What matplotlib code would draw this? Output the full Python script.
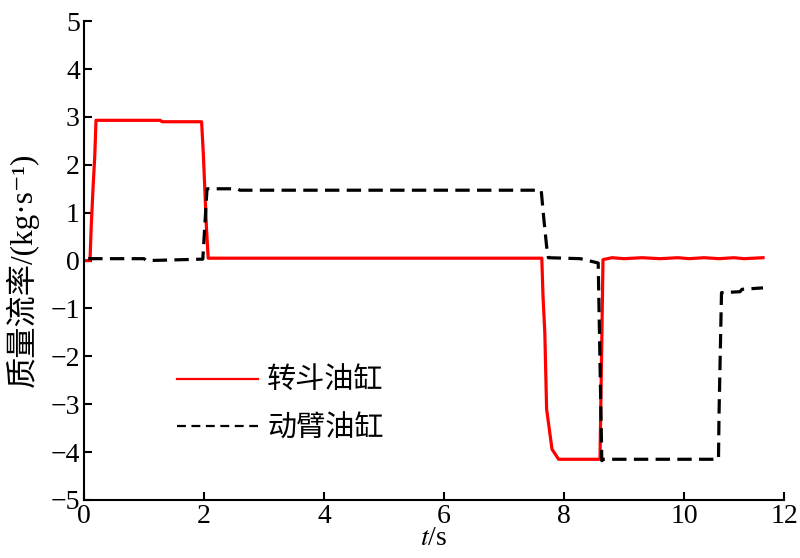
import matplotlib
matplotlib.use("Agg")
import numpy as np
import matplotlib.pyplot as plt
from matplotlib.lines import Line2D

plt.rcParams['font.family'] = ['Liberation Serif', 'Noto Sans CJK SC', 'DejaVu Sans']
plt.rcParams['mathtext.fontset'] = 'stix'

# 转斗油缸 (bucket cylinder)
t_bucket = [0.00, 0.10, 0.12, 0.15, 0.18, 0.20, 1.27, 1.30, 1.96, 1.99, 2.04, 2.07,
            7.63, 7.65, 7.68, 7.71, 7.80, 7.91, 8.60, 8.65, 8.80, 9.00, 9.30, 9.60,
            9.90, 10.10, 10.40, 10.70, 11.00, 11.20, 11.58]
q_bucket = [0.00, 0.00, 0.70, 1.50, 2.20, 2.93, 2.93, 2.90, 2.90, 2.20, 0.70, 0.05,
            0.05, -0.74, -1.50, -3.10, -3.94, -4.15, -4.15, 0.02, 0.06, 0.04, 0.06, 0.04,
            0.06, 0.04, 0.06, 0.04, 0.06, 0.04, 0.06]

# 动臂油缸 (boom cylinder)
t_boom = [0.07, 1.00, 1.04, 1.98, 2.00, 2.05, 2.55, 2.60, 7.62, 7.66, 7.71, 7.74,
          8.27, 8.57, 8.63, 8.66, 10.69, 10.70, 10.75, 11.12, 11.16, 11.58]
q_boom = [0.04, 0.04, 0.00, 0.03, 0.44, 1.50, 1.50, 1.47, 1.47, 0.92, 0.30, 0.06,
          0.04, -0.05, -4.18, -4.15, -4.15, -3.24, -0.67, -0.65, -0.60, -0.57]

xticks = [0, 2, 4, 6, 8, 10, 12]
yticks = [-5, -4, -3, -2, -1, 0, 1, 2, 3, 4, 5]


# the reference's time axis is compressed beyond t = 10
def fwd(x):
    x = np.asarray(x, dtype=float)
    return np.where(x <= 10, x, 10 + (x - 10) * (50.0 / 60.0))


def inv(u):
    u = np.asarray(u, dtype=float)
    return np.where(u <= 10, u, 10 + (u - 10) * (60.0 / 50.0))


fig = plt.figure(figsize=(8.0, 5.58), dpi=100)
ax = fig.add_axes([0.105, 0.104, 0.875, 0.858])

ax.plot(t_bucket, q_bucket, color='#ff0000', lw=2.3)
ax.plot(t_boom, q_boom, color='black', lw=2.3, ls=(0, (4.5, 2.3)))

ax.set_xscale('function', functions=(fwd, inv))
ax.set_xlim(0, 12)
ax.set_ylim(-5, 5)
ax.set_xticks(xticks)
ax.set_yticks(yticks)
ax.set_xticklabels([str(v) for v in xticks])
ax.set_yticklabels([str(v).replace('-', '\u2212') for v in yticks])
ax.minorticks_off()
ax.tick_params(direction='in', length=6, width=1.5, labelsize=20)
ax.tick_params(axis='x', pad=3)
ax.tick_params(axis='y', pad=3)
for s in ['top', 'right']:
    ax.spines[s].set_visible(False)
for s in ['left', 'bottom']:
    ax.spines[s].set_linewidth(1.5)

ax.set_ylabel('质量流率/(kg·s\u207b\u00b9)', fontsize=22.5)
ax.yaxis.set_label_coords(-0.064, 0.48)
ax.set_xlabel('$t$/s', fontsize=20, labelpad=-2)

handles = [Line2D([], [], color='#ff0000', lw=1.6),
           Line2D([], [], color='black', lw=1.6, ls=(0, (4, 2.5)))]
ax.legend(handles, ['转斗油缸', '动臂油缸'], loc='upper left',
          bbox_to_anchor=(0.095, 0.335), frameon=False,
          handlelength=2.8, handletextpad=0.3, labelspacing=0.6,
          prop={'family': ['Noto Sans CJK SC'], 'size': 21})

fig.savefig('out.png', dpi=100)
